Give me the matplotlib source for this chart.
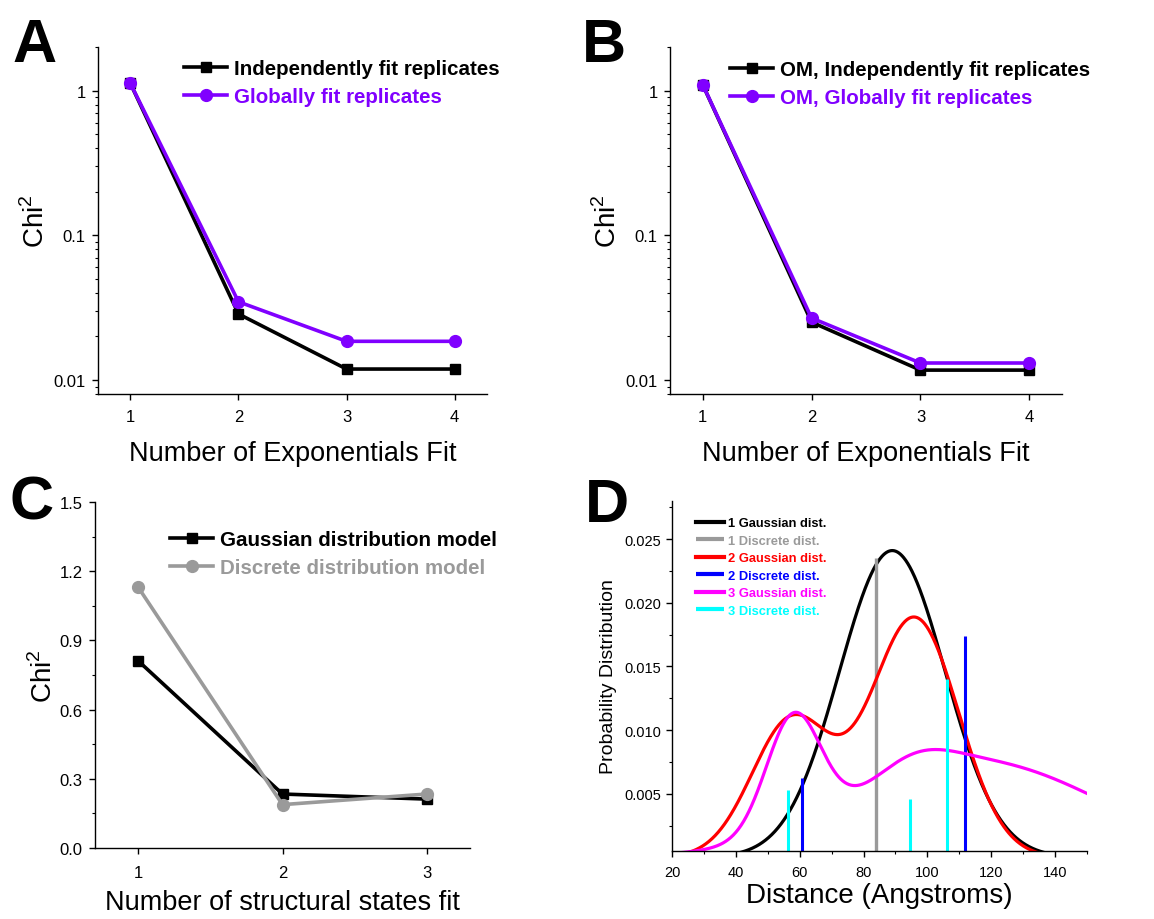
import numpy as np
import matplotlib
matplotlib.use("Agg")
import matplotlib.pyplot as plt
from matplotlib.ticker import FixedLocator, MultipleLocator, FormatStrFormatter, LogLocator, NullFormatter

plt.rcParams['font.family'] = ['Liberation Sans', 'DejaVu Sans']
plt.rcParams['mathtext.fontset'] = 'custom'
plt.rcParams['mathtext.rm'] = 'Liberation Sans'
plt.rcParams['xtick.direction'] = 'out'
plt.rcParams['ytick.direction'] = 'out'

# Panel A / B: chi^2 vs number of exponentials
n_exp = [1, 2, 3, 4]
chi_a_indep = [1.12, 0.0286, 0.0119, 0.0119]
chi_a_global = [1.12, 0.0347, 0.0185, 0.0185]
chi_b_indep = [1.10, 0.0251, 0.0117, 0.0117]
chi_b_global = [1.10, 0.0268, 0.0131, 0.0131]

# Panel C: chi^2 vs number of structural states
n_states = [1, 2, 3]
chi_c_gauss = [0.811, 0.234, 0.212]
chi_c_discrete = [1.13, 0.188, 0.234]

# Panel D: fitted gaussian components (mean, sd, weight)
g1_mean, g1_sd, g1_w = [89.0], [16.55], [1.0]
g2_mean, g2_sd, g2_w = [57.5, 96.0], [12.5, 13.8], [0.338, 0.650]
g3_mean, g3_sd, g3_w = [58.0, 96.0, 116.0], [8.5, 12.0, 38.0], [0.192, 0.050, 0.714]
# discrete distributions: positions and probabilities
d1_pos, d1_p = [84.0], [0.0235]
d2_pos, d2_p = [60.6, 111.9], [0.0062, 0.0174]
d3_pos, d3_p = [56.2, 94.4, 106.1], [0.0053, 0.0046, 0.0140]

PURPLE = '#8000ff'
GRAY = '#9a9a9a'

W, H = 1154, 920
fig = plt.figure(figsize=(W / 100, H / 100), dpi=100)


def box(l, t, r, b):
    return [l / W, 1 - b / H, (r - l) / W, (b - t) / H]


def style(ax, ticksize=12, xpad=7, ypad=5):
    ax.spines['top'].set_visible(False)
    ax.spines['right'].set_visible(False)
    for s in ('left', 'bottom'):
        ax.spines[s].set_linewidth(1.0)
    ax.tick_params(which='major', length=4, width=1.0, labelsize=ticksize)
    ax.tick_params(axis='x', which='major', pad=xpad)
    ax.tick_params(axis='y', which='major', pad=ypad)
    ax.tick_params(which='minor', length=2.5, width=0.8)


def gauss_mix(x, means, sds, ws):
    y = np.zeros_like(x)
    for m, s, w in zip(means, sds, ws):
        y += w / (s * np.sqrt(2 * np.pi)) * np.exp(-0.5 * ((x - m) / s) ** 2)
    return y


def chi_panel(rect, y1, y2, lab1, lab2, leg_xy):
    ax = fig.add_axes(box(*rect))
    ax.plot(n_exp, y1, color='black', lw=2.6, marker='s', ms=7.5, label=lab1)
    ax.plot(n_exp, y2, color=PURPLE, lw=2.6, marker='o', ms=8.5, label=lab2)
    ax.set_yscale('log')
    ax.set_ylim(0.008, 2.0)
    ax.set_xlim(0.7, 4.3)
    ax.xaxis.set_major_locator(FixedLocator(n_exp))
    ax.yaxis.set_major_locator(FixedLocator([0.01, 0.1, 1]))
    ax.yaxis.set_major_formatter(FormatStrFormatter('%g'))
    ax.yaxis.set_minor_locator(LogLocator(base=10, subs=np.arange(2, 10)))
    ax.yaxis.set_minor_formatter(NullFormatter())
    style(ax)
    ax.set_xlabel('Number of Exponentials Fit', fontsize=19.5, labelpad=11)
    ax.set_ylabel(r'Chi$^\mathregular{2}$', fontsize=20, labelpad=2)
    ax.legend(loc='upper left', bbox_to_anchor=(leg_xy[0] / W, 1 - leg_xy[1] / H),
              bbox_transform=fig.transFigure, frameon=False, borderpad=0,
              borderaxespad=0, handlelength=2.1, handletextpad=0.35,
              labelspacing=0.45, labelcolor='linecolor',
              prop={'weight': 'bold', 'size': 14.8})
    return ax


chi_panel((98, 48, 487, 395), chi_a_indep, chi_a_global,
          'Independently fit replicates', 'Globally fit replicates', (184, 60))
chi_panel((670, 48, 1062, 395), chi_b_indep, chi_b_global,
          'OM, Independently fit replicates', 'OM, Globally fit replicates', (730, 61))

# Panel C
axc = fig.add_axes(box(95, 503, 470, 849))
axc.plot(n_states, chi_c_gauss, color='black', lw=2.6, marker='s', ms=7.5,
         label='Gaussian distribution model')
axc.plot(n_states, chi_c_discrete, color=GRAY, lw=2.6, marker='o', ms=8.5,
         label='Discrete distribution model')
axc.set_xlim(0.7, 3.3)
axc.set_ylim(0, 1.5)
axc.xaxis.set_major_locator(FixedLocator(n_states))
axc.yaxis.set_major_locator(MultipleLocator(0.3))
axc.yaxis.set_minor_locator(MultipleLocator(0.15))
axc.yaxis.set_major_formatter(FormatStrFormatter('%.1f'))
style(axc, xpad=8)
axc.set_xlabel('Number of structural states fit', fontsize=19.5, labelpad=7)
axc.set_ylabel(r'Chi$^\mathregular{2}$', fontsize=20, labelpad=1)
axc.legend(loc='upper left', bbox_to_anchor=(170 / W, 1 - 531 / H),
           bbox_transform=fig.transFigure, frameon=False, borderpad=0,
           borderaxespad=0, handlelength=2.1, handletextpad=0.35,
           labelspacing=0.45, labelcolor='linecolor',
           prop={'weight': 'bold', 'size': 14.8})

# Panel D
axd = fig.add_axes(box(672, 502, 1087, 852))
xs = np.linspace(20, 150, 800)
d_colors = ['black', GRAY, 'red', 'blue', 'magenta', 'cyan']
axd.plot(xs, gauss_mix(xs, g1_mean, g1_sd, g1_w), color=d_colors[0], lw=2.3,
         label='1 Gaussian dist.')
axd.vlines(d1_pos, 0, d1_p, color=d_colors[1], lw=2.4, label='1 Discrete dist.')
axd.plot(xs, gauss_mix(xs, g2_mean, g2_sd, g2_w), color=d_colors[2], lw=2.3,
         label='2 Gaussian dist.')
axd.vlines(d2_pos, 0, d2_p, color=d_colors[3], lw=2.2, label='2 Discrete dist.')
axd.plot(xs, gauss_mix(xs, g3_mean, g3_sd, g3_w), color=d_colors[4], lw=2.3,
         label='3 Gaussian dist.')
axd.vlines(d3_pos, 0, d3_p, color=d_colors[5], lw=2.2, label='3 Discrete dist.')
axd.set_xlim(20, 150)
axd.set_ylim(0.0005, 0.028)
axd.xaxis.set_major_locator(MultipleLocator(20))
axd.xaxis.set_minor_locator(MultipleLocator(10))
axd.yaxis.set_major_locator(FixedLocator([0.005, 0.010, 0.015, 0.020, 0.025]))
axd.yaxis.set_minor_locator(MultipleLocator(0.0025))
axd.yaxis.set_major_formatter(FormatStrFormatter('%.3f'))
style(axd, ticksize=10.5, xpad=6, ypad=4)
axd.set_xlabel('Distance (Angstroms)', fontsize=20, labelpad=2)
axd.set_ylabel('Probability Distribution', fontsize=14, labelpad=5)
leg = axd.legend(loc='upper left', bbox_to_anchor=(696 / W, 1 - 518 / H),
                 bbox_transform=fig.transFigure, frameon=False, borderpad=0,
                 borderaxespad=0, handlelength=2.2, handletextpad=0.3,
                 labelspacing=0.43,
                 prop={'weight': 'bold', 'size': 9.3})
for h, t, c in zip(leg.legend_handles, leg.get_texts(), d_colors):
    h.set_linewidth(3.0)
    h.set_color(c)
    t.set_color(c)

# panel letters
for letter, (x, y) in zip('ABCD', [(12, 62), (582, 62), (10, 520), (585, 522)]):
    fig.text(x / W, 1 - y / H, letter, fontsize=44, fontweight='bold',
             ha='left', va='baseline')

fig.savefig('out.png', dpi=100)
